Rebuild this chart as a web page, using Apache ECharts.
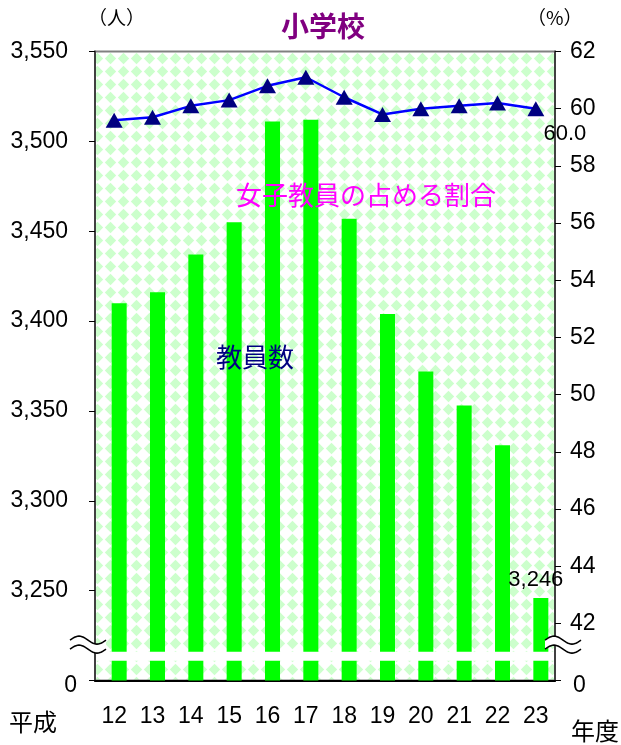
<!DOCTYPE html>
<html><head><meta charset="utf-8">
<script src="https://cdn.jsdelivr.net/npm/echarts@6/dist/echarts.min.js"></script>
<style>html,body{margin:0;padding:0;background:#fff}#c{width:621px;height:745px}</style>
</head><body><div id="c"></div>
<script>
// ---- data ----
const years = ['12','13','14','15','16','17','18','19','20','21','22','23'];
const teachers = [3410,3416,3437,3455,3511,3512,3457,3404,3372,3353,3331,3246];
const femaleRatio = [59.6,59.7,60.1,60.3,60.8,61.1,60.4,59.8,60.0,60.1,60.2,60.0];
const leftAxis = {min:3200, max:3550, step:50};
const rightAxis = {min:40, max:62, step:2};
const breakValue = 3220, gapTop = 3216, gapBottom = 3211;

// ---- layout ----
const G = {left:95, right:66, top:51.5, bottom:64.4};
const W = 621, H = 745;
const plotL = G.left, plotR = W - G.right;
const barShift = 5 / ((plotR - plotL) / years.length); // bars sit a few px right of category centre

const pc = document.createElement('canvas'); pc.width = 13; pc.height = 13;
const g = pc.getContext('2d');
g.fillStyle = '#ffffff'; g.fillRect(0,0,13,13);
g.fillStyle = '#ccffcc';
g.beginPath(); g.moveTo(6.5,0.8); g.lineTo(12.2,6.5); g.lineTo(6.5,12.2); g.lineTo(0.8,6.5); g.closePath(); g.fill();

const numFont = 'Liberation Sans';
const jpFont = 'Noto Sans CJK JP';
const NS = 23;
const chart = echarts.init(document.getElementById('c'), null, {renderer:'canvas'});

const barData = teachers.map((v,i) => i === teachers.length - 1
  ? {value:[i, v], label:{show:true, position:'top', distance:4, offset:[-5,-3], color:'#000', fontSize:NS - 1, fontFamily:numFont,
      formatter: p => p.value[1].toLocaleString('en-US')}}
  : [i, v]);
const lineData = femaleRatio.map((v,i) => i === femaleRatio.length - 1
  ? {value:v, label:{show:true, position:'bottom', distance:4, offset:[29,3], color:'#000', fontSize:NS - 1, fontFamily:numFont,
      formatter: p => p.value.toFixed(1)}}
  : v);

chart.setOption({
  animation:false,
  backgroundColor:'#ffffff',
  title:{text:'小学校', left:276, top:7, textStyle:{color:'#800080', fontSize:28, fontWeight:'bold', fontFamily:jpFont}},
  grid:{left:G.left, right:G.right, top:G.top, bottom:G.bottom, show:true,
        backgroundColor:{image:pc, repeat:'repeat'}, borderColor:'#808080', borderWidth:2},
  xAxis:[
    {type:'category', data:years, boundaryGap:true,
     axisLine:{show:true, lineStyle:{color:'#000', width:2}}, axisTick:{show:false},
     axisLabel:{color:'#000', fontSize:NS, fontFamily:numFont, margin:25}},
    {type:'value', show:false, min:-0.5 - barShift, max: years.length - 0.5 - barShift}
  ],
  yAxis:[
    {type:'value', position:'left', min:leftAxis.min, max:leftAxis.max, interval:leftAxis.step,
     axisLine:{show:true, onZero:false, lineStyle:{color:'#404040', width:2}},
     axisTick:{show:true, inside:false, length:6, lineStyle:{color:'#000', width:1}},
     splitLine:{show:false},
     axisLabel:{color:'#000', fontSize:NS, fontFamily:numFont, margin:18,
       formatter: v => v === leftAxis.min ? '{z|0}' : '{n|' + v.toLocaleString('en-US') + '}',
       rich:{n:{fontSize:NS, fontFamily:numFont, color:'#000', padding:[0,9,0,0]},
             z:{fontSize:NS, fontFamily:numFont, color:'#000', padding:[10,0,0,0]}}}},
    {type:'value', position:'right', min:rightAxis.min, max:rightAxis.max, interval:rightAxis.step,
     axisLine:{show:true, onZero:false, lineStyle:{color:'#404040', width:2}},
     axisTick:{show:true, inside:false, length:6, lineStyle:{color:'#000', width:1}},
     splitLine:{show:false},
     axisLabel:{color:'#000', fontSize:NS, fontFamily:numFont, margin:15,
       formatter: v => v === rightAxis.min ? '{z|0}' : String(v),
       rich:{z:{fontSize:NS, fontFamily:numFont, color:'#000', padding:[10,0,0,3]}}}}
  ],
  series:[
    {type:'bar', name:'教員数', xAxisIndex:1, yAxisIndex:0, barWidth:15, itemStyle:{color:'#00ff00'}, data:barData, z:2},
    {type:'line', name:'女子教員の占める割合', xAxisIndex:0, yAxisIndex:1, data:lineData, z:5,
     lineStyle:{color:'#0000ff', width:2.5}, itemStyle:{color:'#000080'},
     symbol:'triangle', symbolSize:[17,15], showAllSymbol:true}
  ]
});

// decorations: axis break + free texts
const yb = chart.convertToPixel({yAxisIndex:0}, breakValue);
const yg1 = chart.convertToPixel({yAxisIndex:0}, gapTop);
const yg2 = chart.convertToPixel({yAxisIndex:0}, gapBottom);
function wave(x0, w, yc, amp){
  const pts = [];
  for (let k = 0; k <= 24; k++){ const t = k/24; pts.push([x0 + t*w, yc - amp*Math.sin(2*Math.PI*t)]); }
  return pts;
}
function breakMark(xc){
  const w = 36, x0 = xc - w/2, sep = 9, amp = 4;
  const top = wave(x0, w, yb - sep/2, amp), bot = wave(x0, w, yb + sep/2, amp);
  return [
    {type:'polygon', z:100, shape:{points: top.concat(bot.slice().reverse())}, style:{fill:'#fff', stroke:null}},
    {type:'polyline', z:101, shape:{points:top}, style:{stroke:'#000', lineWidth:1.6, fill:null}},
    {type:'polyline', z:101, shape:{points:bot}, style:{stroke:'#000', lineWidth:1.6, fill:null}}
  ];
}
const txt = (x, y, s, size, color, extra) => Object.assign({type:'text', z:50, x, y,
  style:Object.assign({text:s, fontSize:size, fontFamily:jpFont, fill:color, textVerticalAlign:'middle'}, extra||{})});
chart.setOption({graphic:[
  {type:'rect', z:90, shape:{x:plotL + 1, y:yg1, width:plotR - plotL - 2, height:yg2 - yg1}, style:{fill:'#fff'}},
  ...breakMark(plotL - 7),
  ...breakMark(plotR + 8),
  txt(88, 18, '（人）', 19, '#000'),
  txt(527, 18, '（%）', 19, '#000'),
  txt(9, 722, '平成', 24, '#000'),
  txt(571, 731, '年度', 24, '#000'),
  txt(216, 357, '教員数', 26, '#000080'),
  txt(236, 195, '女子教員の占める割合', 26, '#ff00ff')
]});
</script>
</body></html>
